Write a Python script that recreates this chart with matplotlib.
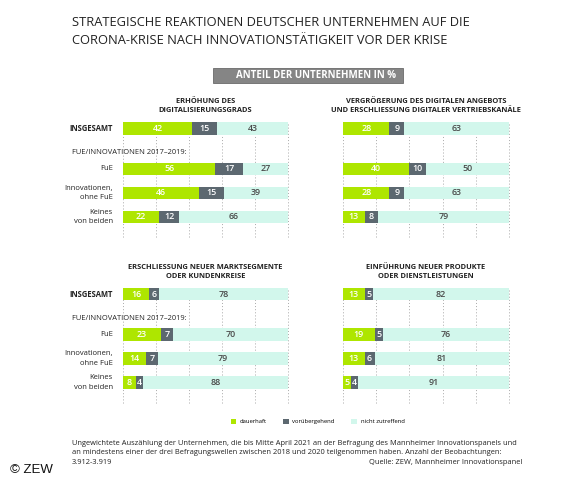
import matplotlib
matplotlib.use("Agg")
import matplotlib.pyplot as plt
from matplotlib.patches import Rectangle

plt.rcParams['font.family'] = ['Open Sans', 'DejaVu Sans']

W, H = 570, 480

main_title = "STRATEGISCHE REAKTIONEN DEUTSCHER UNTERNEHMEN AUF DIE\nCORONA-KRISE NACH INNOVATIONSTÄTIGKEIT VOR DER KRISE"
box_label = "ANTEIL DER UNTERNEHMEN IN %"
row_labels = ["INSGESAMT", "FuE", "Innovationen,\nohne FuE", "Keines\nvon beiden"]
group_label = "FUE/INNOVATIONEN 2017–2019:"
series_names = ["dauerhaft", "vorübergehend", "nicht zutreffend"]

titles = [
    "ERHÖHUNG DES\nDIGITALISIERUNGSGRADS",
    "VERGRÖßERUNG DES DIGITALEN ANGEBOTS\nUND ERSCHLIESSUNG DIGITALER VERTRIEBSKANÄLE",
    "ERSCHLIESSUNG NEUER MARKTSEGMENTE\nODER KUNDENKREISE",
    "EINFÜHRUNG NEUER PRODUKTE\nODER DIENSTLEISTUNGEN",
]
dauerhaft = [
    [42, 56, 46, 22],
    [28, 40, 28, 13],
    [16, 23, 14, 8],
    [13, 19, 13, 5],
]
voruebergehend = [
    [15, 17, 15, 12],
    [9, 10, 9, 8],
    [6, 7, 7, 4],
    [5, 5, 6, 4],
]
nicht_zutreffend = [
    [43, 27, 39, 66],
    [63, 50, 63, 79],
    [78, 70, 79, 88],
    [82, 76, 81, 91],
]
footnote_lines = [
    "Ungewichtete Auszählung der Unternehmen, die bis Mitte April 2021 an der Befragung des Mannheimer Innovationspanels und",
    "an mindestens einer der drei Befragungswellen zwischen 2018 und 2020 teilgenommen haben. Anzahl der Beobachtungen:",
]
footnote_last_left = "3.912-3.919"
footnote_source = "Quelle: ZEW, Mannheimer Innovationspanel"
copyright_text = "© ZEW"

colors = ["#aee600", "#5c6870", "#d2f7ec"]
text_colors = ["white", "white", "#4a4a4a"]
ypos = [0, 1.69, 2.69, 3.69]
bar_h = 0.53

fig = plt.figure(figsize=(W / 100, H / 100), dpi=100)

def fx(px):
    return px / W

def fy(py):
    return 1 - py / H

# main title
fig.text(fx(72.5), fy(31.5), main_title, ha='left', va='center', fontsize=9.25,
         color='#222222', linespacing=1.6)

# grey box
fig.patches.append(Rectangle((fx(212.7), fy(82.7)), fx(402.7) - fx(212.7), fy(68.3) - fy(82.7),
                             transform=fig.transFigure, facecolor='#858585', edgecolor='#6a6a6a', lw=0.6))
fig.text(fx(316), fy(75.6), box_label, ha='center', va='center', fontsize=7.0,
         color='white', fontweight='bold')

ax_specs = [(123, 288, 122), (343, 509, 122), (123, 288, 287.7), (343, 509, 287.7)]
ylim = (4.52, -0.265)
ax_h_px = (ylim[0] - ylim[1]) * 24

handles = None
for i, (x0, x1, ytop) in enumerate(ax_specs):
    ax = fig.add_axes([fx(x0), fy(ytop + ax_h_px), fx(x1) - fx(x0), ax_h_px / H])
    ax.set_xlim(0, 100)
    ax.set_ylim(*ylim)
    for g in range(0, 101, 20):
        ax.axvline(g, color='#a8a8a8', lw=0.7, ls=(0, (1, 2.2)), zorder=0, clip_on=False)
    left = [0] * 4
    hs = []
    for s, vals in enumerate([dauerhaft[i], voruebergehend[i], nicht_zutreffend[i]]):
        bc = ax.barh(ypos, vals, left=left, height=bar_h, color=colors[s], zorder=2,
                     label=series_names[s], linewidth=0)
        hs.append(bc)
        for y, l, v in zip(ypos, left, vals):
            ax.text(l + v / 2, y, str(v), ha='center', va='center', fontsize=6.4,
                    color=text_colors[s], fontweight='semibold', zorder=3)
        left = [a + b for a, b in zip(left, vals)]
    handles = hs
    ax.axis('off')
    ax.annotate(titles[i], xy=(0.5, 1), xycoords='axes fraction', xytext=(0, 11.5),
                textcoords='offset points', ha='center', va='center', fontsize=5.4,
                fontweight='bold', color='#222222', linespacing=1.4)
    if i % 2 == 0:
        for j, (y, lab) in enumerate(zip(ypos, row_labels)):
            ax.annotate(lab, xy=(0, y), xycoords=('axes fraction', 'data'), xytext=(-7.3, 0),
                        textcoords='offset points', ha='right', va='center', fontsize=5.5,
                        fontweight='bold' if j == 0 else 'normal', color='#222222',
                        linespacing=1.45)
        ax.annotate(group_label, xy=(fx(71.7), 1.0), xycoords=('figure fraction', 'data'),
                    ha='left', va='center', fontsize=5.45, color='#222222')

fig.legend(handles, series_names, loc='center', bbox_to_anchor=(fx(317.5), fy(421.5)), ncol=3,
           frameon=False, fontsize=4.2, handlelength=1.0, handleheight=1.0, columnspacing=2.85,
           handletextpad=0.55)

# footnote
fig.canvas.draw()
renderer = fig.canvas.get_renderer()
fn_x0, fn_x1 = 72, 522
fn_ys = [443.3, 453.0, 462.3]
t = fig.text(0, 0, footnote_lines[0], fontsize=5.0)
w0 = t.get_window_extent(renderer).width
t.remove()
fn_size = 5.0 * (fn_x1 - fn_x0) / w0
for line, y in zip(footnote_lines, fn_ys[:2]):
    fig.text(fx(fn_x0), fy(y), line, fontsize=fn_size, ha='left', va='center', color='#222222')
fig.text(fx(fn_x0), fy(fn_ys[2]), footnote_last_left, fontsize=fn_size, ha='left', va='center', color='#222222')
fig.text(fx(fn_x1), fy(fn_ys[2]), footnote_source, fontsize=fn_size, ha='right', va='center', color='#222222')

fig.text(fx(9.5), fy(470), copyright_text, fontsize=9.5, ha='left', va='center', color='#111111',
         family=['Liberation Sans', 'DejaVu Sans'])

fig.savefig("out.png", dpi=100)
